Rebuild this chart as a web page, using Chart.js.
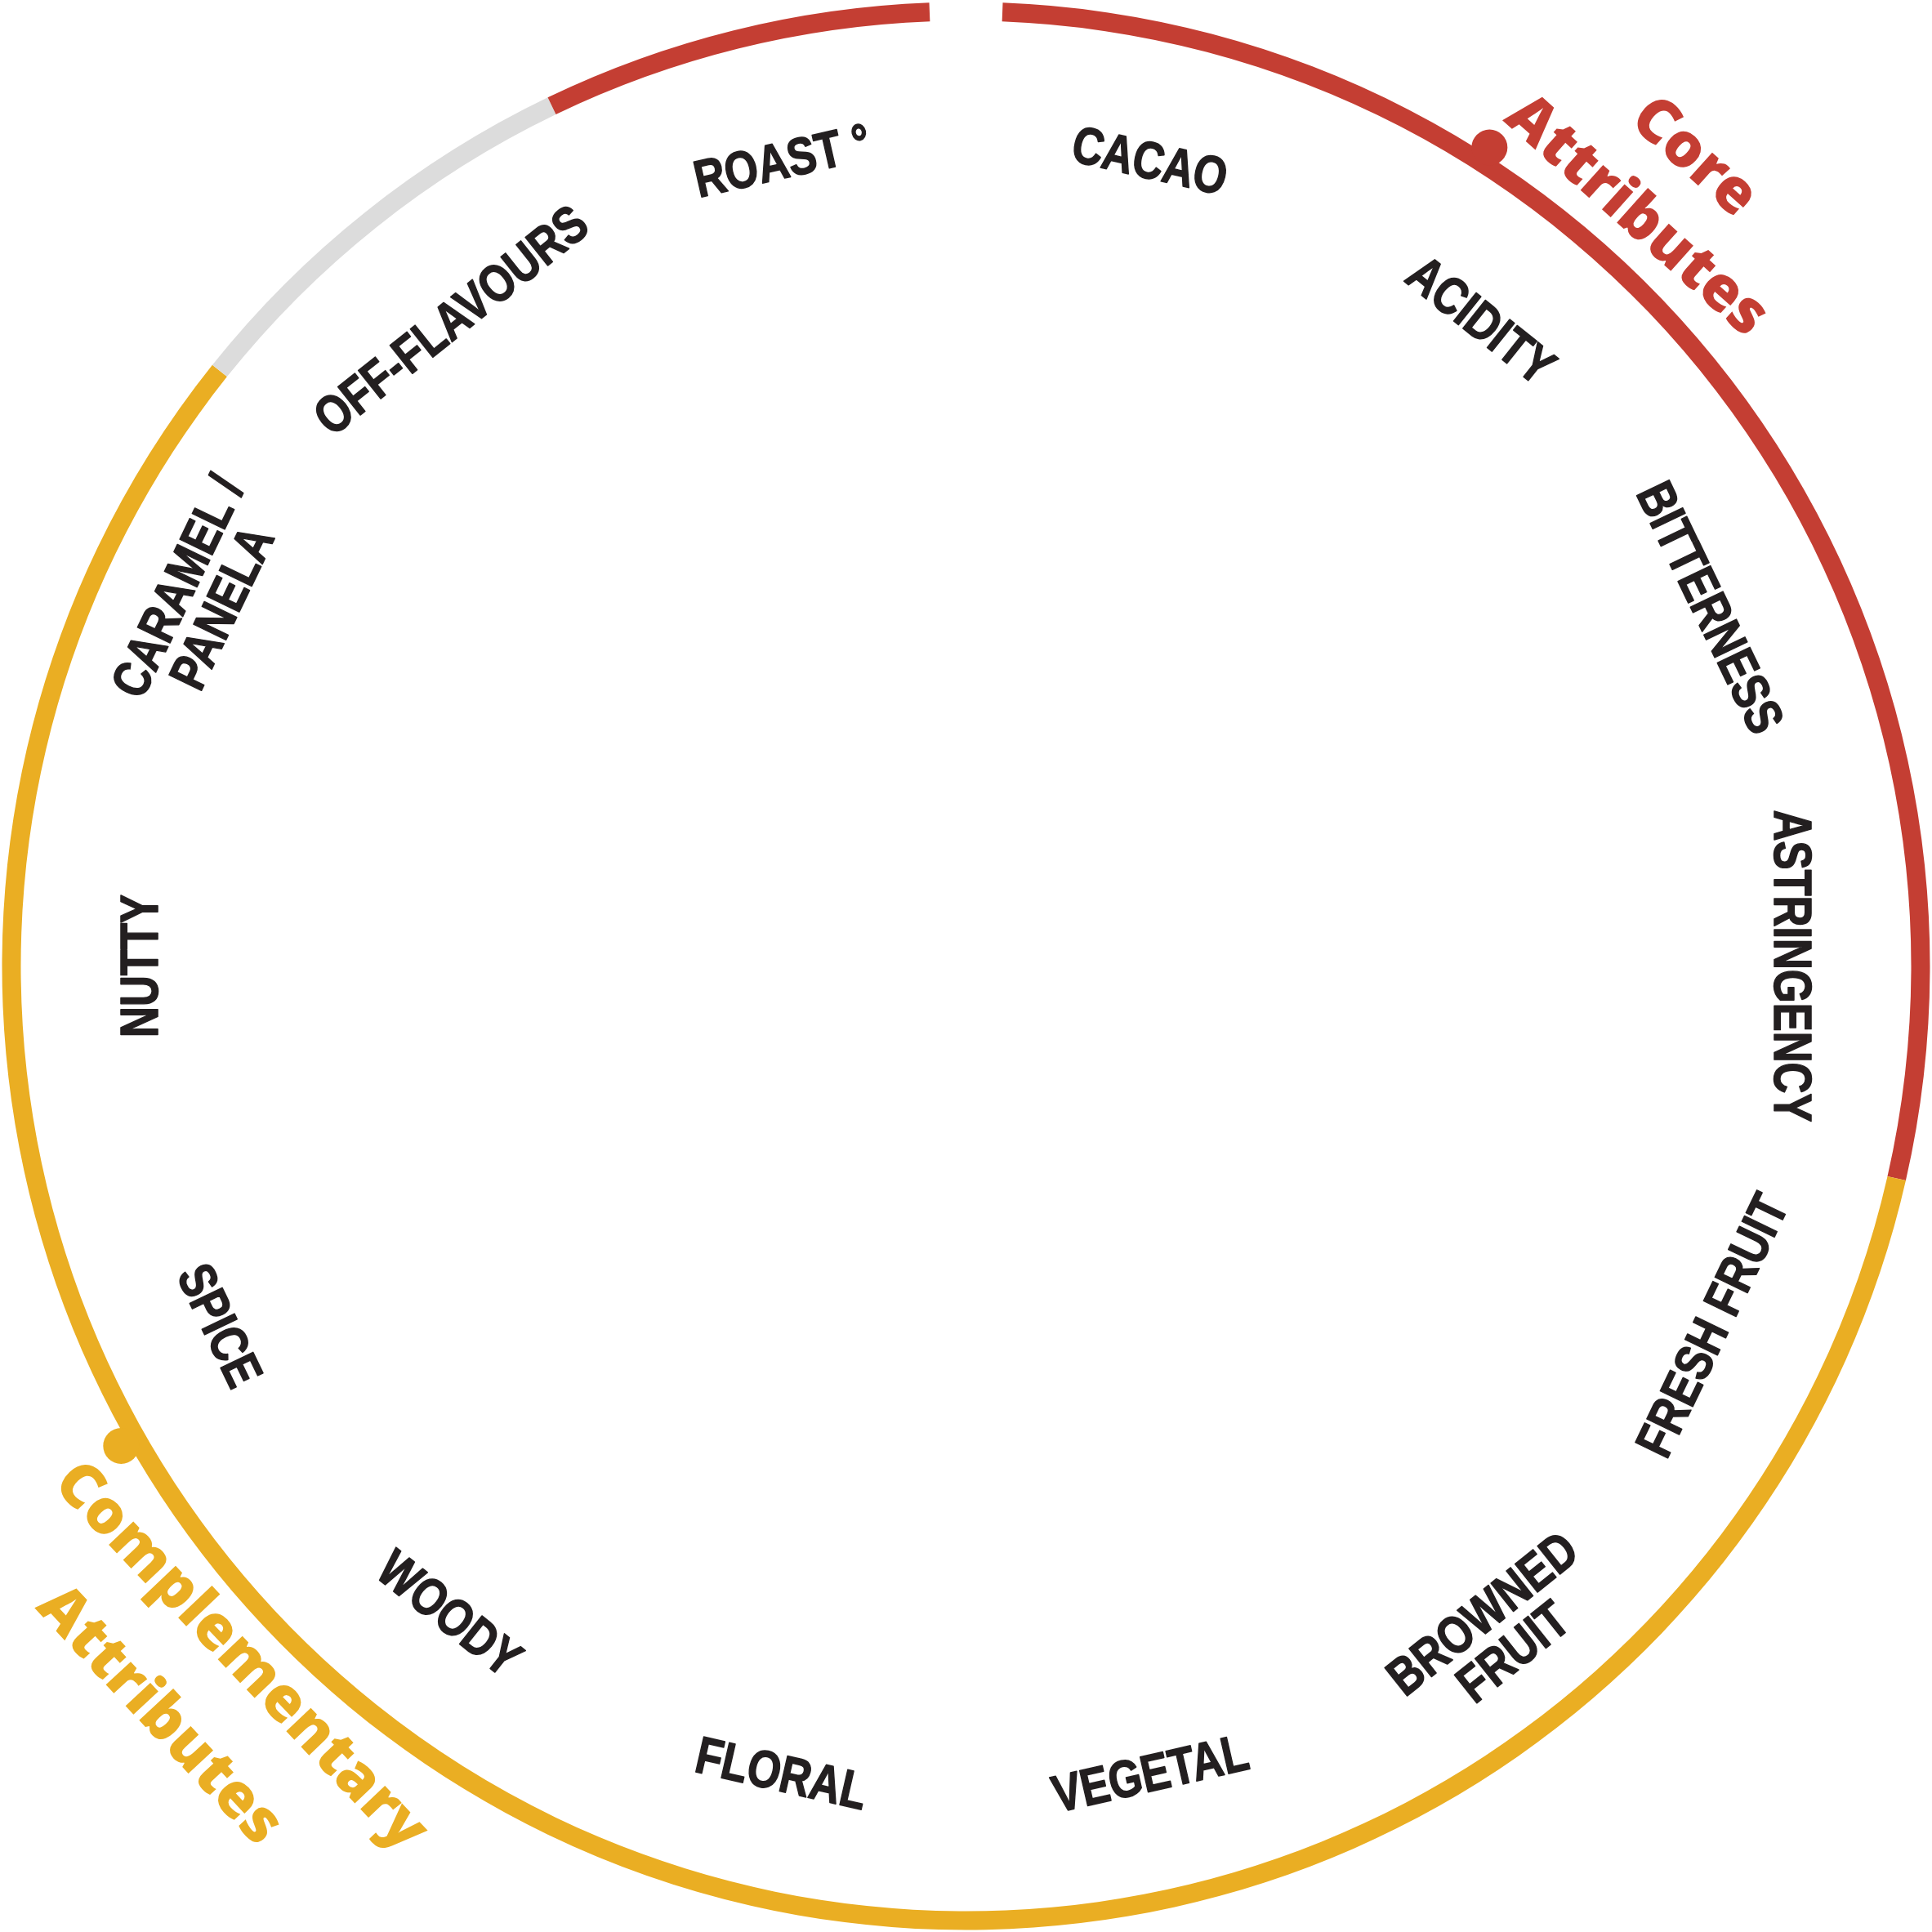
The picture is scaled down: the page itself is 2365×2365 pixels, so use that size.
<!DOCTYPE html>
<html>
<head>
<meta charset="utf-8">
<script src="https://cdn.jsdelivr.net/npm/chart.js@4.4.1/dist/chart.umd.min.js"></script>
<style>
  html, body { margin: 0; padding: 0; background: #fff; }
  canvas { display: block; }
</style>
</head>
<body>
<canvas id="wheel" width="2365" height="2365"></canvas>
<script>
// flavour attributes, clockwise from 12 o'clock
const categories = [
  'CACAO', 'ACIDITY', 'BITTERNESS', 'ASTRINGENCY', 'FRESH FRUIT',
  ['BROWNED', 'FRUIT'], 'VEGETAL', 'FLORAL', 'WOODY', 'SPICE', 'NUTTY',
  ['CARAMEL /', 'PANELA'], 'OFF-FLAVOURS', 'ROAST °'
];
const categoryWeights = [1, 1, 1, 1, 1, 1, 1, 1, 1, 1, 1, 1, 1, 1];

// outer ring pieces, measured in category widths
const ringGroups = ['gap', 'core', 'complementary', 'off', 'core', 'gap'];
const ringSpans = [0.085, 3.915, 8, 1, 0.915, 0.085];

const coreTitle = ['Core', 'Attributes'];
const complementaryTitle = ['Complementary', 'Attributes'];

const groupColors = {
  gap: 'rgba(0,0,0,0)',
  core: '#c43e33',
  complementary: '#eaae23',
  off: '#dcdcdc'
};

function hasFont(name) {
  const c = document.createElement('canvas').getContext('2d');
  c.font = 'bold 64px monospace';
  const a = c.measureText('NUTTY ASTRINGENCY').width;
  c.font = 'bold 64px "' + name + '", monospace';
  const b = c.measureText('NUTTY ASTRINGENCY').width;
  return a !== b;
}
const narrow = hasFont('Liberation Sans Narrow');
const labelFamily = narrow ? '"Liberation Sans Narrow"' : '"Liberation Sans"';
const labelScale = narrow ? 1 : 0.82;

const OUTER = 1180;
const INNER = 868;
const RING = 23;

const wheelText = {
  id: 'wheelText',
  afterDatasetsDraw(chart, args, opts) {
    const ctx = chart.ctx;
    const labelMeta = chart.getDatasetMeta(1);
    const ringArc = chart.getDatasetMeta(0).data[1];
    const ring = ringArc.getProps(['x', 'y', 'innerRadius', 'outerRadius'], true);
    const cx = ring.x, cy = ring.y;
    const R = ring.outerRadius;

    // category labels
    ctx.save();
    ctx.fillStyle = opts.color;
    ctx.strokeStyle = opts.color;
    ctx.lineWidth = 1.6;
    ctx.lineJoin = 'round';
    ctx.font = 'bold ' + opts.size + 'px ' + labelFamily;
    ctx.textAlign = 'center';
    ctx.textBaseline = 'alphabetic';
    const capH = opts.size * 0.716;
    labelMeta.data.forEach((arc, i) => {
      const p = arc.getProps(['x', 'y', 'startAngle', 'endAngle', 'innerRadius', 'outerRadius'], true);
      const mid = (p.startAngle + p.endAngle) / 2;
      const r = (p.innerRadius + p.outerRadius) / 2;
      let deg = (mid * 180 / Math.PI + 90 + 360) % 360;
      const flip = deg > 90.5 && deg < 269.5;
      const rot = (flip ? deg - 180 : deg) * Math.PI / 180;
      const lines = [].concat(categories[i]);
      ctx.save();
      ctx.translate(p.x + r * Math.cos(mid), p.y + r * Math.sin(mid));
      ctx.rotate(rot);
      ctx.scale(labelScale, 1);
      lines.forEach((line, k) => {
        const off = flip ? k * opts.lineHeight : -(lines.length - 1 - k) * opts.lineHeight;
        ctx.fillText(line, 0, off + capH / 2);
        ctx.strokeText(line, 0, off + capH / 2);
      });
      ctx.restore();
    });
    ctx.restore();

    // group markers and titles
    opts.titles.forEach(t => {
      const col = groupColors[t.group];
      const da = (t.dot - 90) * Math.PI / 180;
      ctx.save();
      ctx.fillStyle = col;
      ctx.beginPath();
      ctx.arc(cx + R * t.dotR * Math.cos(da), cy + R * t.dotR * Math.sin(da), opts.dotSize, 0, Math.PI * 2);
      ctx.fill();
      ctx.font = '800 ' + opts.titleSize + 'px "Open Sans"';
      ctx.textAlign = 'center';
      ctx.textBaseline = 'middle';
      t.lines.forEach((ln, k) => {
        const a = (ln.a - 90) * Math.PI / 180;
        const flip = ln.a > 90 && ln.a < 270;
        ctx.save();
        ctx.translate(cx + R * ln.r * Math.cos(a), cy + R * ln.r * Math.sin(a));
        ctx.rotate((flip ? ln.a - 180 : ln.a) * Math.PI / 180);
        ctx.fillText(t.text[k], 0, 0);
        ctx.restore();
      });
      ctx.restore();
    });
  }
};

new Chart(document.getElementById('wheel').getContext('2d'), {
  type: 'doughnut',
  data: {
    labels: categories.map(c => [].concat(c).join(' ')),
    datasets: [
      {
        label: 'Groups',
        data: ringSpans,
        backgroundColor: ringGroups.map(g => groupColors[g]),
        borderWidth: 0,
        weight: RING
      },
      {
        label: 'Attributes',
        data: categoryWeights,
        backgroundColor: 'rgba(0,0,0,0)',
        borderWidth: 0,
        weight: OUTER - INNER - RING
      }
    ]
  },
  options: {
    responsive: false,
    animation: false,
    devicePixelRatio: 1,
    radius: OUTER,
    cutout: (INNER / OUTER * 100) + '%',
    hoverOffset: 0,
    events: [],
    plugins: {
      legend: { display: false },
      tooltip: { enabled: false },
      wheelText: {
        color: '#231f20',
        size: 64,
        lineHeight: 60,
        titleSize: 75,
        dotSize: 22,
        titles: [
          { group: 'core', text: coreTitle, dot: 32.6, dotR: 1.008,
            lines: [{ a: 42.0, r: 1.128 }, { a: 41.8, r: 1.043 }] },
          { group: 'complementary', text: complementaryTitle, dot: 240.4, dotR: 1.008,
            lines: [{ a: 226.4, r: 1.04 }, { a: 227.1, r: 1.143 }] }
        ]
      }
    }
  },
  plugins: [wheelText]
});
</script>
</body>
</html>
